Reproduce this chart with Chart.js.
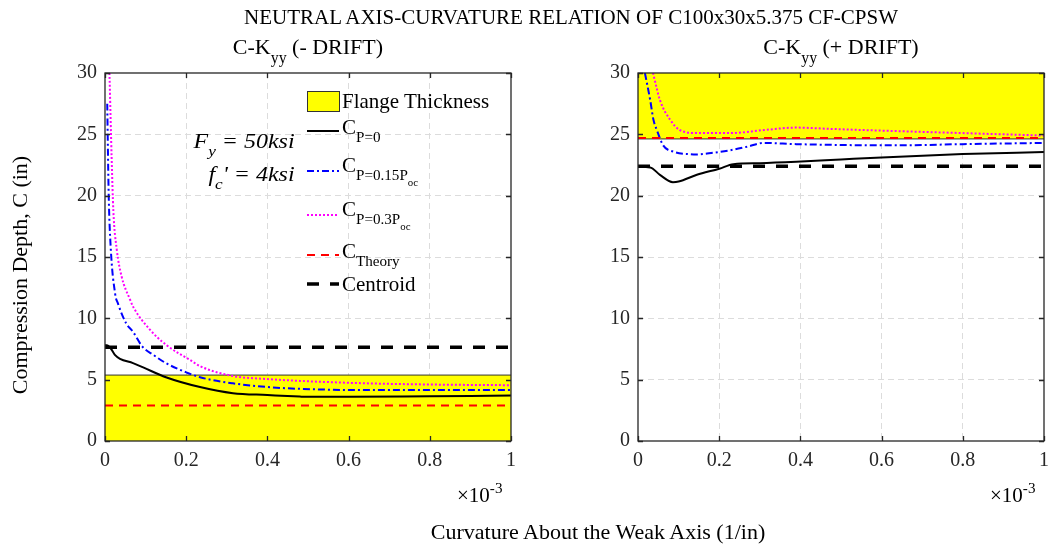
<!DOCTYPE html>
<html>
<head>
<meta charset="utf-8">
<script src="https://cdn.jsdelivr.net/npm/chart.js@4/dist/chart.umd.min.js"></script>
<style>
  html, body { margin: 0; padding: 0; background: #fff; }
  #fig { position: relative; width: 1048px; height: 548px; overflow: hidden;
         font-family: "Liberation Serif", "Times New Roman", serif; color: #000; }
  canvas { position: absolute; top: 0; }
  .t { position: absolute; white-space: nowrap; line-height: 1; }
  .sub { font-size: 0.72em; position: relative; top: 0.55em; }
  .sub2 { font-size: 0.72em; position: relative; top: 0.5em; }
  .sup { font-size: 0.72em; position: relative; top: -0.6em; }
  .it { font-style: italic; }
  svg.key { position: absolute; overflow: visible; }
</style>
</head>
<body>
<div id="fig">
  <canvas id="cL" width="524" height="548" style="left:0"></canvas>
  <canvas id="cR" width="524" height="548" style="left:524px"></canvas>

  <div class="t" style="font-size:21px; top:7px; left:0; width:1142px; text-align:center;">NEUTRAL AXIS-CURVATURE RELATION OF C100x30x5.375 CF-CPSW</div>
  <div class="t" style="font-size:22px; top:36px; left:108px; width:400px; text-align:center;">C-K<span class="sub">yy</span> (- DRIFT)</div>
  <div class="t" style="font-size:22px; top:36px; left:641px; width:400px; text-align:center;">C-K<span class="sub">yy</span> (+ DRIFT)</div>

  <div class="t" style="font-size:22px; left:-100px; top:264px; width:240px; text-align:center; transform: rotate(-90deg);">Compression Depth, C (in)</div>
  <div class="t" style="font-size:22px; left:398px; top:521px; width:400px; text-align:center;">Curvature About the Weak Axis (1/in)</div>

  <div class="t" style="font-size:21px; left:457px; top:485px;">&times;10<span class="sup">-3</span></div>
  <div class="t" style="font-size:21px; left:990px; top:485px;">&times;10<span class="sup">-3</span></div>

  <!-- material properties note, right-aligned -->
  <div class="t it" style="font-size:21px; right:753px; top:131px; transform: scaleX(1.14); transform-origin: right center;">F<span class="sub">y</span> = 50ksi</div>
  <div class="t it" style="font-size:21px; right:753px; top:164px; transform: scaleX(1.14); transform-origin: right center;">f<span class="sub">c</span>' = 4ksi</div>

  <!-- legend -->
  <svg class="key" style="left:0;top:0" width="1" height="1">
    <rect x="307.5" y="91.5" width="32" height="20" fill="#ffff00" stroke="#333" stroke-width="1"/>
    <line x1="307" y1="131" x2="339" y2="131" stroke="#000" stroke-width="2"/>
    <line x1="307" y1="171" x2="339" y2="171" stroke="#0000ff" stroke-width="2" stroke-dasharray="7 3 2 3"/>
    <line x1="307" y1="215" x2="339" y2="215" stroke="#ff00ff" stroke-width="2" stroke-dasharray="2 2"/>
    <line x1="307" y1="255" x2="339" y2="255" stroke="#ff0000" stroke-width="2" stroke-dasharray="8 6"/>
    <line x1="307" y1="284" x2="339" y2="284" stroke="#000" stroke-width="3.5" stroke-dasharray="12 11"/>
  </svg>
  <div class="t" style="font-size:21px; left:342px; top:91px;">Flange Thickness</div>
  <div class="t" style="font-size:21px; left:342px; top:117px;">C<span class="sub">P=0</span></div>
  <div class="t" style="font-size:21px; left:342px; top:155px;">C<span class="sub">P=0.15P<span class="sub2">oc</span></span></div>
  <div class="t" style="font-size:21px; left:342px; top:199px;">C<span class="sub">P=0.3P<span class="sub2">oc</span></span></div>
  <div class="t" style="font-size:21px; left:342px; top:241px;">C<span class="sub">Theory</span></div>
  <div class="t" style="font-size:21px; left:342px; top:274px;">Centroid</div>
</div>

<script>
// Curvature in units of 1e-3 (1/in), compression depth C in inches.

// ---- Negative drift ----
const negP0X   = [0, 0.005, 0.015, 0.025, 0.037, 0.069, 0.094, 0.15, 0.234, 0.315, 0.4, 0.48, 0.5, 0.6, 0.8, 1.0];
const negP0Y   = [7.8, 7.8, 7.5, 7.0, 6.7, 6.35, 6.0, 5.2, 4.4, 3.9, 3.75, 3.62, 3.6, 3.6, 3.65, 3.7];
const negP15X  = [0.0055, 0.009, 0.014, 0.025, 0.032, 0.052, 0.069, 0.092, 0.12, 0.15, 0.2, 0.234, 0.315, 0.4, 0.48, 0.645, 0.8, 1.0];
const negP15Y  = [27.5, 20.2, 15.8, 12.0, 11.2, 9.6, 8.9, 7.7, 7.0, 6.35, 5.6, 5.2, 4.7, 4.4, 4.25, 4.15, 4.15, 4.15];
const negP30X  = [0.011, 0.0165, 0.0205, 0.029, 0.041, 0.062, 0.07, 0.11, 0.152, 0.21, 0.234, 0.315, 0.4, 0.48, 0.645, 0.81, 1.0];
const negP30Y  = [30.0, 22.9, 18.8, 15.6, 13.4, 11.5, 10.9, 9.1, 7.8, 6.6, 6.1, 5.3, 5.05, 4.9, 4.7, 4.6, 4.55];
const negTheory   = 2.9;
const negCentroid = 7.65;
const negFlange   = [0, 5.375];

// ---- Positive drift ----
const posP0X   = [0, 0.03, 0.054, 0.086, 0.1, 0.145, 0.2, 0.235, 0.3, 0.39, 0.5, 0.6, 0.8, 1.0];
const posP0Y   = [22.35, 22.3, 21.7, 21.1, 21.15, 21.7, 22.2, 22.57, 22.65, 22.76, 22.95, 23.12, 23.39, 23.55];
const posP15X  = [0.017, 0.03, 0.038, 0.047, 0.062, 0.086, 0.128, 0.145, 0.185, 0.227, 0.27, 0.31, 0.39, 0.64, 0.8, 1.0];
const posP15Y  = [30.0, 27.8, 26.2, 25.3, 24.1, 23.6, 23.38, 23.36, 23.5, 23.7, 24.0, 24.3, 24.2, 24.1, 24.2, 24.3];
const posP30X  = [0.037, 0.054, 0.079, 0.103, 0.145, 0.227, 0.31, 0.39, 0.47, 0.555, 0.8, 1.0];
const posP30Y  = [30.0, 27.8, 26.2, 25.35, 25.1, 25.1, 25.35, 25.55, 25.45, 25.35, 25.1, 24.9];
const posTheory   = 24.7;
const posCentroid = 22.4;
const posFlange   = [24.625, 30];

// ---- Axes ----
const xTicks = [0, 0.2, 0.4, 0.6, 0.8, 1];
const yTicks = [0, 5, 10, 15, 20, 25, 30];

const pts = (xs, ys) => xs.map((x, i) => ({ x, y: ys[i] }));
const hline = (y) => [{ x: 0, y }, { x: 1, y }];

// Box around the plot area with inward tick marks on all four sides
const boxPlugin = {
  id: 'box',
  afterDatasetsDraw(chart) {
    const { ctx, chartArea: a, scales: { x, y } } = chart;
    ctx.save();
    ctx.strokeStyle = '#262626';
    ctx.lineWidth = 1.3;
    ctx.beginPath();
    const L = 5;
    xTicks.forEach(v => {
      const px = Math.round(x.getPixelForValue(v)) + 0.5;
      ctx.moveTo(px, a.bottom); ctx.lineTo(px, a.bottom - L);
      ctx.moveTo(px, a.top); ctx.lineTo(px, a.top + L);
    });
    yTicks.forEach(v => {
      const py = Math.round(y.getPixelForValue(v)) + 0.5;
      ctx.moveTo(a.left, py); ctx.lineTo(a.left + L, py);
      ctx.moveTo(a.right, py); ctx.lineTo(a.right - L, py);
    });
    ctx.stroke();
    ctx.strokeRect(a.left, a.top, a.right - a.left, a.bottom - a.top);
    ctx.restore();
  }
};

function makeChart(id, padLeft, padRight, d) {
  const font = { family: 'Liberation Serif', size: 20 };
  const line = (data, color, width, dash, order) => ({
    data, borderColor: color, borderWidth: width, borderDash: dash,
    pointRadius: 0, fill: false, order, cubicInterpolationMode: 'monotone'
  });
  return new Chart(document.getElementById(id), {
    type: 'line',
    data: {
      datasets: [
        { data: d.flange, borderColor: '#333', borderWidth: 1, backgroundColor: '#ffff00',
          pointRadius: 0, fill: d.fillTo, order: 10, tension: 0 },
        line(pts(d.p0x, d.p0y), '#000000', 2, [], 4),
        line(pts(d.p15x, d.p15y), '#0000ff', 2, [7, 3, 2, 3], 3),
        line(pts(d.p30x, d.p30y), '#ff00ff', 2, [2, 2], 2),
        line(hline(d.theory), '#ff0000', 2, [8, 6], 1),
        line(hline(d.centroid), '#000000', 3.5, [12, 11], 0)
      ]
    },
    options: {
      responsive: false,
      animation: false,
      events: [],
      layout: { padding: { left: padLeft, right: padRight, top: 73, bottom: 77 } },
      plugins: { legend: { display: false }, tooltip: { enabled: false } },
      scales: {
        x: {
          type: 'linear', min: 0, max: 1,
          afterFit: s => { s.height = 30; s.paddingLeft = 0; s.paddingRight = 0; },
          afterBuildTicks: s => { s.ticks = xTicks.map(v => ({ value: v })); },
          ticks: { font, color: '#262626', padding: 8, maxRotation: 0,
                   callback: v => String(Number(v.toFixed(1))) },
          grid: { color: v => (v.tick && (v.tick.value === 0 || v.tick.value === 1)) ? 'rgba(0,0,0,0)' : '#dcdcdc',
                  lineWidth: 1, drawTicks: false },
          border: { display: false, dash: [6, 4] }
        },
        y: {
          type: 'linear', min: 0, max: 30,
          afterFit: s => { s.width = 45; s.paddingTop = 0; s.paddingBottom = 0; },
          afterBuildTicks: s => { s.ticks = yTicks.map(v => ({ value: v })); },
          ticks: { font, color: '#262626', padding: 8 },
          grid: { color: v => (v.tick && (v.tick.value === 0 || v.tick.value === 30)) ? 'rgba(0,0,0,0)' : '#dcdcdc',
                  lineWidth: 1, drawTicks: false },
          border: { display: false, dash: [6, 4] }
        }
      }
    },
    plugins: [boxPlugin]
  });
}

makeChart('cL', 60, 13, {
  flange: hline(negFlange[1]), fillTo: 'origin',
  p0x: negP0X, p0y: negP0Y, p15x: negP15X, p15y: negP15Y, p30x: negP30X, p30y: negP30Y,
  theory: negTheory, centroid: negCentroid
});
makeChart('cR', 69, 4, {
  flange: hline(posFlange[0]), fillTo: 'end',
  p0x: posP0X, p0y: posP0Y, p15x: posP15X, p15y: posP15Y, p30x: posP30X, p30y: posP30Y,
  theory: posTheory, centroid: posCentroid
});
</script>
</body>
</html>
